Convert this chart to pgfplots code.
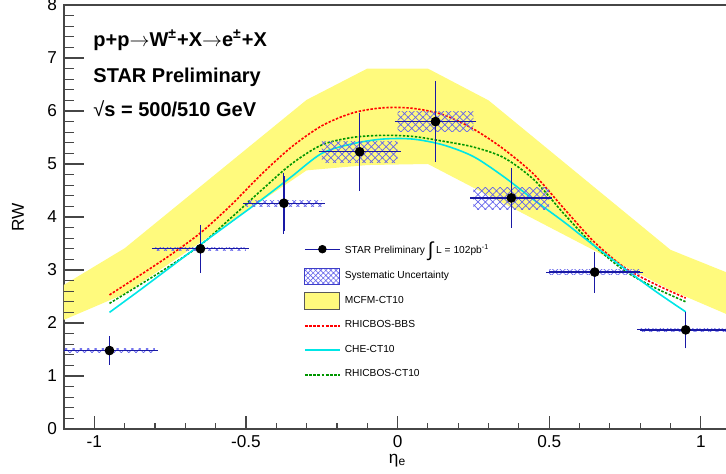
\documentclass[border=0pt]{standalone}
\usepackage{pgfplots}
\pgfplotsset{compat=1.18}
\usepackage{fontspec}
\setmainfont{Liberation Sans}
\usetikzlibrary{patterns.meta}
\definecolor{navy}{RGB}{25,25,165}
\definecolor{hatchblue}{RGB}{100,100,235}
\definecolor{bandyellow}{RGB}{255,250,125}
\definecolor{cyanline}{RGB}{0,230,230}
\definecolor{greenline}{RGB}{0,150,0}
\definecolor{axisgray}{RGB}{70,70,70}
\tikzset{syshatch/.style={draw=none, pattern={Hatch[angle=45,distance=2.6pt,line width=0.35pt]}, pattern color=hatchblue},
  tk/.style={draw=axisgray, line width=0.55pt}}
\begin{document}
\begin{tikzpicture}
\begin{axis}[
  name=ax,
  scale only axis,
  width=333.6pt, height=212pt,
  xmin=-1.1, xmax=1.1, ymin=0, ymax=8,
  xtick={-1,-0.5,0,0.5,1},
  xticklabels={-1,-0.5,0,0.5,1},
  ytick={0,1,2,3,4,5,6,7,8},
  yticklabels={0,1,2,3,4,5,6,7,8},
  minor x tick num=4, minor y tick num=4,
  tick align=inside, tick pos=left,
  major tick length=6.5pt, minor tick length=3.2pt,
  tick style={axisgray, line width=0.5pt},
  axis line style={axisgray, line width=0.6pt},
  ticklabel style={font=\fontsize{8.6}{10}\selectfont},
  xticklabel style={inner sep=1pt, yshift=-1.9pt},
  xlabel={η\textsubscript{e}}, ylabel={RW},
  label style={font=\fontsize{8.6}{10}\selectfont},
  xlabel style={at={(axis description cs:0.5,-0.058)}, anchor=north, inner sep=0pt},
  ylabel style={at={(axis description cs:-0.069,0.5)}, anchor=center},
  legend style={at={(axis cs:-0.31,3.62)}, anchor=north west, draw=none, fill=none,
    font=\fontsize{5.1}{6}\selectfont, row sep=3.2pt, inner sep=0pt},
  legend cell align=left,
]
% legend entries
\addlegendimage{draw=navy, legend image code/.code={\path[draw=none,fill=none] (0pt,-4.2pt) rectangle (17.5pt,4.2pt);
  \draw[navy,line width=0.6pt] (0pt,0pt)--(17.5pt,0pt);
  \fill[black] (8.75pt,0pt) circle (1.9pt);}}
\addlegendentry{STAR Preliminary \raisebox{-1.2pt}{\fontsize{10}{10}\selectfont ∫} L = 102pb\textsuperscript{-1}}
\addlegendimage{draw=hatchblue, legend image code/.code={\path[draw=none,fill=none] (0pt,-4.2pt) rectangle (17.5pt,4.2pt);
  \draw[draw=navy!50!hatchblue, line width=0.4pt, pattern={Hatch[angle=45,distance=1.8pt,line width=0.3pt]}, pattern color=hatchblue] (0pt,-4.2pt) rectangle (17.5pt,4.2pt);}}
\addlegendentry{Systematic Uncertainty}
\addlegendimage{draw=gray, legend image code/.code={\path[draw=none,fill=none] (0pt,-4.2pt) rectangle (17.5pt,4.2pt);
  \draw[fill=bandyellow, draw=gray!70!black, line width=0.5pt] (0pt,-4.2pt) rectangle (17.5pt,4.2pt);}}
\addlegendentry{MCFM-CT10}
\addlegendimage{draw=red, legend image code/.code={\path[draw=none,fill=none] (0pt,-4.2pt) rectangle (17.5pt,4.2pt);
  \draw[draw=red, line width=0.9pt, dash pattern=on 1.4pt off 0.7pt] (0pt,0pt)--(17.5pt,0pt);}}
\addlegendentry{RHICBOS-BBS}
\addlegendimage{draw=cyanline, legend image code/.code={\path[draw=none,fill=none] (0pt,-4.2pt) rectangle (17.5pt,4.2pt);
  \draw[draw=cyanline, line width=0.8pt] (0pt,0pt)--(17.5pt,0pt);}}
\addlegendentry{CHE-CT10}
\addlegendimage{draw=greenline, legend image code/.code={\path[draw=none,fill=none] (0pt,-4.2pt) rectangle (17.5pt,4.2pt);
  \draw[draw=greenline, line width=0.9pt, dash pattern=on 1.4pt off 0.7pt] (0pt,0pt)--(17.5pt,0pt);}}
\addlegendentry{RHICBOS-CT10}

% MCFM-CT10 band
\addplot[fill=bandyellow, draw=none, forget plot] coordinates {
 (-1.1,2.72) (-0.9,3.41) (-0.3,6.21) (-0.1,6.80) (0.1,6.80) (0.3,6.20) (0.9,3.38) (1.1,2.92)
 (1.1,2.13) (0.9,2.62) (0.1,5.00) (-0.1,4.98) (-0.3,4.88) (-0.9,2.55) (-1.1,2.06)
} -- cycle;

% RHICBOS-BBS
\addplot[red, line width=0.8pt, dash pattern=on 1.2pt off 0.8pt, smooth, forget plot] coordinates {
 (-0.95,2.53) (-0.85,2.90) (-0.75,3.28) (-0.65,3.70) (-0.55,4.22) (-0.45,4.80) (-0.35,5.32)
 (-0.25,5.72) (-0.15,5.96) (-0.05,6.06) (0.05,6.05) (0.15,5.93) (0.25,5.66) (0.35,5.28)
 (0.45,4.80) (0.55,4.15) (0.65,3.52) (0.75,3.04) (0.85,2.73) (0.95,2.47)
};
% RHICBOS-CT10
\addplot[greenline, line width=0.8pt, dash pattern=on 1.2pt off 0.8pt, smooth, forget plot] coordinates {
 (-0.95,2.37) (-0.85,2.72) (-0.75,3.08) (-0.65,3.47) (-0.55,3.98) (-0.45,4.50) (-0.35,5.00)
 (-0.25,5.36) (-0.15,5.50) (-0.05,5.54) (0.05,5.52) (0.15,5.43) (0.25,5.32) (0.35,5.12)
 (0.45,4.70) (0.55,4.05) (0.65,3.45) (0.75,2.98) (0.85,2.66) (0.95,2.40)
};
% CHE-CT10
\addplot[cyanline, line width=0.8pt, smooth, forget plot] coordinates {
 (-0.95,2.20) (-0.85,2.62) (-0.75,3.05) (-0.65,3.48) (-0.55,3.90) (-0.45,4.32) (-0.35,4.76)
 (-0.25,5.20) (-0.15,5.38) (-0.05,5.47) (0.05,5.47) (0.15,5.36) (0.25,5.14) (0.35,4.76)
 (0.45,4.32) (0.55,3.90) (0.65,3.45) (0.75,3.02) (0.85,2.60) (0.95,2.21)
};

% systematic boxes
\addplot[syshatch, forget plot] coordinates {(-1.1,1.45) (-0.8,1.45) (-0.8,1.51) (-1.1,1.51)} -- cycle;
\addplot[syshatch, forget plot] coordinates {(-0.8,3.37) (-0.5,3.37) (-0.5,3.43) (-0.8,3.43)} -- cycle;
\addplot[syshatch, forget plot] coordinates {(-0.5,4.20) (-0.25,4.20) (-0.25,4.32) (-0.5,4.32)} -- cycle;
\addplot[syshatch, forget plot] coordinates {(-0.25,5.02) (0,5.02) (0,5.42) (-0.25,5.42)} -- cycle;
\addplot[syshatch, forget plot] coordinates {(0,5.62) (0.25,5.62) (0.25,5.99) (0,5.99)} -- cycle;
\addplot[syshatch, forget plot] coordinates {(0.25,4.15) (0.5,4.15) (0.5,4.55) (0.25,4.55)} -- cycle;
\addplot[syshatch, forget plot] coordinates {(0.5,2.92) (0.8,2.92) (0.8,3.00) (0.5,3.00)} -- cycle;
\addplot[syshatch, forget plot] coordinates {(0.8,1.84) (1.1,1.84) (1.1,1.90) (0.8,1.90)} -- cycle;

% data
\addplot[only marks, mark=*, mark size=2.2pt, mark options={fill=black, draw=black}, forget plot,
 error bars/.cd, x dir=both, x explicit, y dir=both, y explicit,
 error bar style={navy, line width=0.7pt}, error mark options={navy, mark size=1.5pt, line width=0.6pt}]
coordinates {
 (-0.95,1.48) +- (0.15,0.21)
 (-0.65,3.40) +- (0.15,0.40)
 (-0.375,4.26) +- (0.125,0.52)
 (-0.125,5.23) +- (0.125,0.68)
 (0.125,5.80) +- (0.125,0.71)
 (0.375,4.36) +- (0.125,0.51)
 (0.65,2.96) +- (0.15,0.33)
 (0.95,1.87) +- (0.15,0.29)
};

% axis tick marks (drawn explicitly so that x and y ticks get their own lengths)
\pgfplotsinvokeforeach{-1,-0.5,0,0.5,1}{\draw[tk] (axis cs:#1,0) -- ++(0pt,6.5pt);}
\pgfplotsinvokeforeach{-1.1,-0.9,-0.8,-0.7,-0.6,-0.4,-0.3,-0.2,-0.1,0.1,0.2,0.3,0.4,0.6,0.7,0.8,0.9}{\draw[tk] (axis cs:#1,0) -- ++(0pt,3.2pt);}
\pgfplotsinvokeforeach{1,2,3,4,5,6,7}{\draw[tk] (axis cs:-1.1,#1) -- ++(10pt,0pt);}
\pgfplotsinvokeforeach{0.2,0.4,0.6,0.8,1.2,1.4,1.6,1.8,2.2,2.4,2.6,2.8,3.2,3.4,3.6,3.8,4.2,4.4,4.6,4.8,5.2,5.4,5.6,5.8,6.2,6.4,6.6,6.8,7.2,7.4,7.6,7.8}{\draw[tk] (axis cs:-1.1,#1) -- ++(5pt,0pt);}

\node[anchor=west, inner sep=0pt, font=\bfseries\fontsize{10}{12}\selectfont] at (rel axis cs:0.0435,0.917) {p+p$\rightarrow$W\textsuperscript{±}+X$\rightarrow$e\textsuperscript{±}+X};
\node[anchor=west, inner sep=0pt, font=\bfseries\fontsize{10}{12}\selectfont] at (rel axis cs:0.0435,0.830) {STAR Preliminary};
\node[anchor=west, inner sep=0pt, font=\bfseries\fontsize{10}{12}\selectfont] at (rel axis cs:0.0435,0.755) {{\mdseries √}s = 500/510 GeV};
\end{axis}
\pgfresetboundingbox
\path[use as bounding box] ([shift={(-32pt,-22.5pt)}]ax.south west) rectangle ([shift={(-2.6pt,2.5pt)}]ax.north east);
\end{tikzpicture}
\end{document}
